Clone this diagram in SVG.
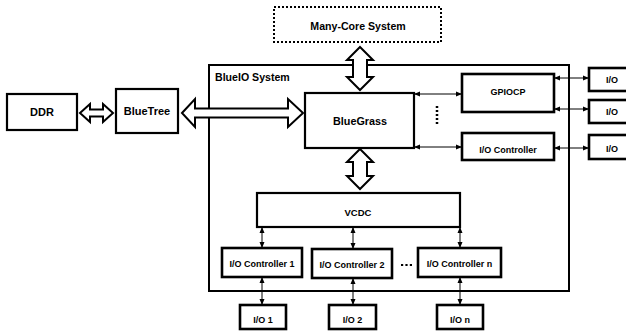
<svg xmlns="http://www.w3.org/2000/svg" width="626" height="331" viewBox="0 0 626 331">
<defs>
<marker id="ah" viewBox="0 0 6 6" refX="6" refY="3" markerWidth="6" markerHeight="6" markerUnits="userSpaceOnUse" orient="auto-start-reverse">
<path d="M0,0.5 L6,3 L0,5.5 Z" fill="#000"/>
</marker>
<style>
.box{fill:#fff;stroke:#000;stroke-width:2.2}
.thk{stroke-width:2.6}
.sys{fill:none;stroke:#000;stroke-width:2}
.t{font-family:"Liberation Sans",Arial,sans-serif;font-weight:bold;fill:#000;text-anchor:middle}
.big{font-size:10.6px}
.sm{font-size:9px}
.conn{stroke:#000;stroke-width:1;fill:none;marker-start:url(#ah);marker-end:url(#ah)}
.fat{fill:#fff;stroke:#000;stroke-width:2;stroke-linejoin:miter}
</style>
</defs>
<rect width="626" height="331" fill="#fff"/>

<g id="blueio-system">
<rect class="sys" x="209" y="65" width="360" height="226"/>
<text class="t big" x="215" y="81" style="text-anchor:start">BlueIO System</text>
</g>

<g id="many-core">
<rect x="274" y="7" width="167" height="35" fill="#fff" stroke="#000" stroke-width="2" stroke-dasharray="2,2"/>
<text class="t big" x="358" y="29.5">Many-Core System</text>
</g>

<g id="ddr">
<rect class="box" x="7" y="94" width="70" height="36"/>
<text class="t" style="font-size:11px" x="42" y="115.5">DDR</text>
</g>

<g id="bluetree">
<rect class="box" x="116" y="89" width="62" height="44"/>
<text class="t" style="font-size:11px" x="147" y="115">BlueTree</text>
</g>

<g id="bluegrass">
<rect class="box" x="305" y="93" width="109" height="55"/>
<text class="t" style="font-size:10.8px" x="360" y="125">BlueGrass</text>
</g>

<g id="gpiocp">
<rect class="box thk" x="462" y="74" width="92" height="38"/>
<text class="t sm" x="508" y="94.5">GPIOCP</text>
</g>

<g id="io-controller">
<rect class="box thk" x="462" y="133" width="92" height="27"/>
<text class="t sm" x="508" y="152.5">I/O Controller</text>
</g>

<g id="io-right-1">
<rect class="box thk" x="589" y="68" width="45" height="23"/>
<text class="t sm" x="612" y="83">I/O</text>
</g>
<g id="io-right-2">
<rect class="box thk" x="589" y="100" width="45" height="23"/>
<text class="t sm" x="612" y="115">I/O</text>
</g>
<g id="io-right-3">
<rect class="box thk" x="589" y="135" width="45" height="24"/>
<text class="t sm" x="612" y="151.5">I/O</text>
</g>

<g id="vcdc">
<rect class="box" x="257" y="193" width="203" height="34"/>
<text class="t" style="font-size:9.5px" x="358" y="216">VCDC</text>
</g>

<g id="ioc1">
<rect class="box thk" x="222" y="248" width="80" height="29"/>
<text class="t sm" x="262" y="267">I/O Controller 1</text>
</g>
<g id="ioc2">
<rect class="box thk" x="312" y="249" width="80" height="29"/>
<text class="t sm" x="352" y="268">I/O Controller 2</text>
</g>
<g id="iocn">
<rect class="box thk" x="418" y="248" width="83" height="29"/>
<text class="t sm" x="459.5" y="267">I/O Controller n</text>
</g>

<g id="io1">
<rect class="box thk" x="240" y="305" width="46" height="24"/>
<text class="t sm" x="263" y="323">I/O 1</text>
</g>
<g id="io2">
<rect class="box thk" x="329" y="305" width="47" height="24"/>
<text class="t sm" x="352.5" y="323">I/O 2</text>
</g>
<g id="ion">
<rect class="box thk" x="437" y="305" width="46" height="24"/>
<text class="t sm" x="460" y="323">I/O n</text>
</g>

<g id="connectors">
<polygon class="fat" points="360,47 373,60 367,60 367,77 373,77 360,90 347,77 353,77 353,60 347,60"/>
<polygon class="fat" points="360,149 373,162 367,162 367,176 373,176 360,189 347,176 353,176 353,162 347,162"/>
<polygon class="fat" points="80,113 90,104 90,109.5 103,109.5 103,104 113,113 103,122 103,116.5 90,116.5 90,122"/>
<polygon class="fat" points="182,113 195,99 195,108.5 288,108.5 288,99 303,113 288,127 288,117.5 195,117.5 195,127"/>
<line class="conn" x1="414" y1="94" x2="462" y2="94"/>
<line class="conn" x1="414" y1="147" x2="462" y2="147"/>
<line class="conn" x1="554" y1="78" x2="589" y2="78"/>
<line class="conn" x1="554" y1="109" x2="589" y2="109"/>
<line class="conn" x1="554" y1="148" x2="589" y2="148"/>
<line class="conn" x1="262" y1="227" x2="262" y2="248"/>
<line class="conn" x1="353" y1="227" x2="353" y2="249"/>
<line class="conn" x1="460" y1="227" x2="460" y2="248"/>
<line class="conn" x1="262" y1="277" x2="262" y2="305"/>
<line class="conn" x1="353" y1="278" x2="353" y2="305"/>
<line class="conn" x1="460" y1="277" x2="460" y2="305"/>
<line x1="437" y1="106" x2="437" y2="124" stroke="#000" stroke-width="2.5" stroke-dasharray="2,2"/>
<line x1="401" y1="265" x2="413" y2="265" stroke="#000" stroke-width="2.2" stroke-dasharray="2.2,2.2"/>
</g>
</svg>
